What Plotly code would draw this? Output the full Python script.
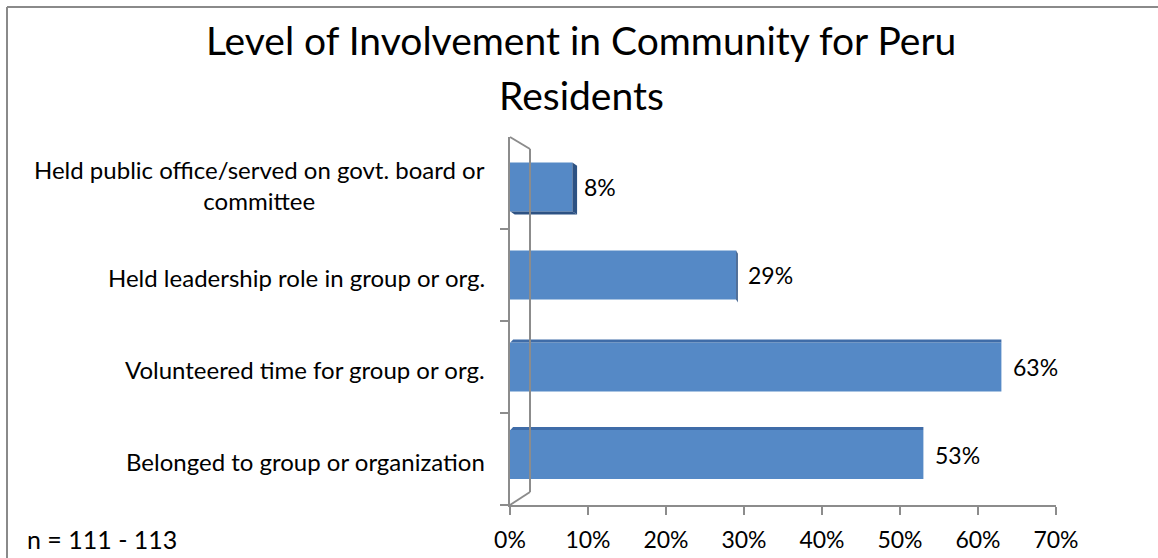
import plotly.graph_objects as go

# Survey results, bottom-to-top order on the chart
categories = [
    "Belonged to group or organization",
    "Volunteered time for group or org.",
    "Held leadership role in group or org.",
    "Held public office/served on govt. board or<br>committee",
]
values = [53, 63, 29, 8]
x_ticks = [0, 10, 20, 30, 40, 50, 60, 70]
x_tick_labels = [f"{t}%" for t in x_ticks]

W, H = 1158, 558
ML, MR, MT, MB = 510, 102, 137, 53
PW, PH = W - ML - MR, H - MT - MB
BAND_PX = PH / 4

FONT = "Lato"
AXIS_GRAY = "#8c8c8c"
FRONT = "#5589c6"
TOP = "#3f6ca8"
SIDE = "#2d5283"


def px(x):
    return (x - ML) / PW


def py(y):
    return (H - MB - y) / PH


bar_width = 0.53
# perspective: outer bars sit slightly toward the vertical middle of the box
bar_lift = [4.5 / BAND_PX, 0.0, 0.0, -4.0 / BAND_PX]

fig = go.Figure()
fig.add_trace(go.Bar(
    x=values,
    y=list(range(len(categories))),
    orientation="h",
    marker=dict(color=FRONT, line=dict(width=0)),
    width=bar_width,
    offset=[-bar_width / 2 + l for l in bar_lift],
    hoverinfo="skip",
))

shapes = []
# 3D faces of each bar: bars below eye level show their top, bars above show their bottom;
# the right side face narrows with distance along the axis
face_y = 0.035  # in category units
for i, v in enumerate(values):
    bot = i - bar_width / 2 + bar_lift[i]
    top = bot + bar_width
    side = max(0.0, 0.6 * (40 - v) / 32)
    dx = max(side, 0.4)
    if i <= 1:
        shapes.append(dict(
            type="path", xref="x", yref="y", line=dict(width=0), fillcolor=TOP,
            path=f"M 0.05,{top} L {dx},{top + face_y} L {v + side},{top + face_y} L {v},{top} Z",
        ))
    elif i == 3:
        shapes.append(dict(
            type="path", xref="x", yref="y", line=dict(width=0), fillcolor=SIDE,
            path=f"M 0.05,{bot} L {dx},{bot - face_y} L {v + side},{bot - face_y} L {v},{bot} Z",
        ))
    if side > 0:
        shift = face_y if i <= 1 else -face_y
        shapes.append(dict(
            type="path", xref="x", yref="y", line=dict(width=0), fillcolor=SIDE,
            path=f"M {v},{top} L {v + side},{top + shift} L {v + side},{bot + shift} L {v},{bot} Z",
        ))

# Side wall of the 3D plot box
wall = [((510, 137), (530, 149)), ((530, 149), (530, 492)), ((510, 505), (530, 492))]
for (x0, y0), (x1, y1) in wall:
    shapes.append(dict(
        type="line", xref="paper", yref="paper",
        x0=px(x0), y0=py(y0), x1=px(x1), y1=py(y1),
        line=dict(color=AXIS_GRAY, width=2),
    ))

# Chart frame (top and left edges)
shapes.append(dict(type="line", xref="paper", yref="paper",
                   x0=px(7), y0=py(7), x1=px(W + 5), y1=py(7),
                   line=dict(color="#8a8a8a", width=2)))
shapes.append(dict(type="line", xref="paper", yref="paper",
                   x0=px(7), y0=py(7), x1=px(7), y1=py(H + 5),
                   line=dict(color="#8a8a8a", width=2)))

annotations = []
# Category labels
for i, c in enumerate(categories):
    annotations.append(dict(
        text=c, xref="paper", yref="y", x=px(487), y=i, yshift=-2,
        xanchor="right", yanchor="middle", align="center", showarrow=False,
        font=dict(family=FONT, size=24, color="#000000"),
    ))
# Value labels
for i, v in enumerate(values):
    annotations.append(dict(
        text=f"{v}%", xref="x", yref="y", x=v, y=i + bar_lift[i], xshift=10,
        xanchor="left", yanchor="middle", showarrow=False,
        font=dict(family=FONT, size=23, color="#000000"),
    ))
# Title
for text, ycen in [("Level of Involvement in Community for Peru", 40), ("Residents", 95)]:
    annotations.append(dict(
        text=text, xref="paper", yref="paper", x=px(581), y=py(ycen),
        xanchor="center", yanchor="middle", showarrow=False,
        font=dict(family=FONT, size=39, color="#000000"),
    ))
# Sample size note
annotations.append(dict(
    text="n = 111 - 113", xref="paper", yref="paper", x=px(25), y=py(539),
    xanchor="left", yanchor="middle", showarrow=False,
    font=dict(family=FONT, size=25, color="#000000"),
))

fig.update_layout(
    width=W, height=H,
    margin=dict(l=ML, r=MR, t=MT, b=MB, pad=0, autoexpand=False),
    paper_bgcolor="white", plot_bgcolor="white",
    showlegend=False,
    shapes=shapes,
    annotations=annotations,
    xaxis=dict(
        range=[0, 70], tickvals=x_ticks, ticktext=x_tick_labels,
        showgrid=False, zeroline=False, showline=True,
        linecolor=AXIS_GRAY, linewidth=2,
        ticks="outside", ticklen=8, tickwidth=2, tickcolor=AXIS_GRAY,
        ticklabelstandoff=5, automargin=False,
        tickfont=dict(family=FONT, size=23, color="#000000"),
        fixedrange=True,
    ),
    yaxis=dict(
        range=[-0.5, 3.5], tickvals=[-0.5, 0.5, 1.5, 2.5], showticklabels=False,
        showgrid=False, zeroline=False, showline=True,
        linecolor=AXIS_GRAY, linewidth=2, automargin=False,
        ticks="outside", ticklen=8, tickwidth=2, tickcolor=AXIS_GRAY,
        fixedrange=True,
    ),
)

fig.write_html("out.html", config={"displayModeBar": False})
